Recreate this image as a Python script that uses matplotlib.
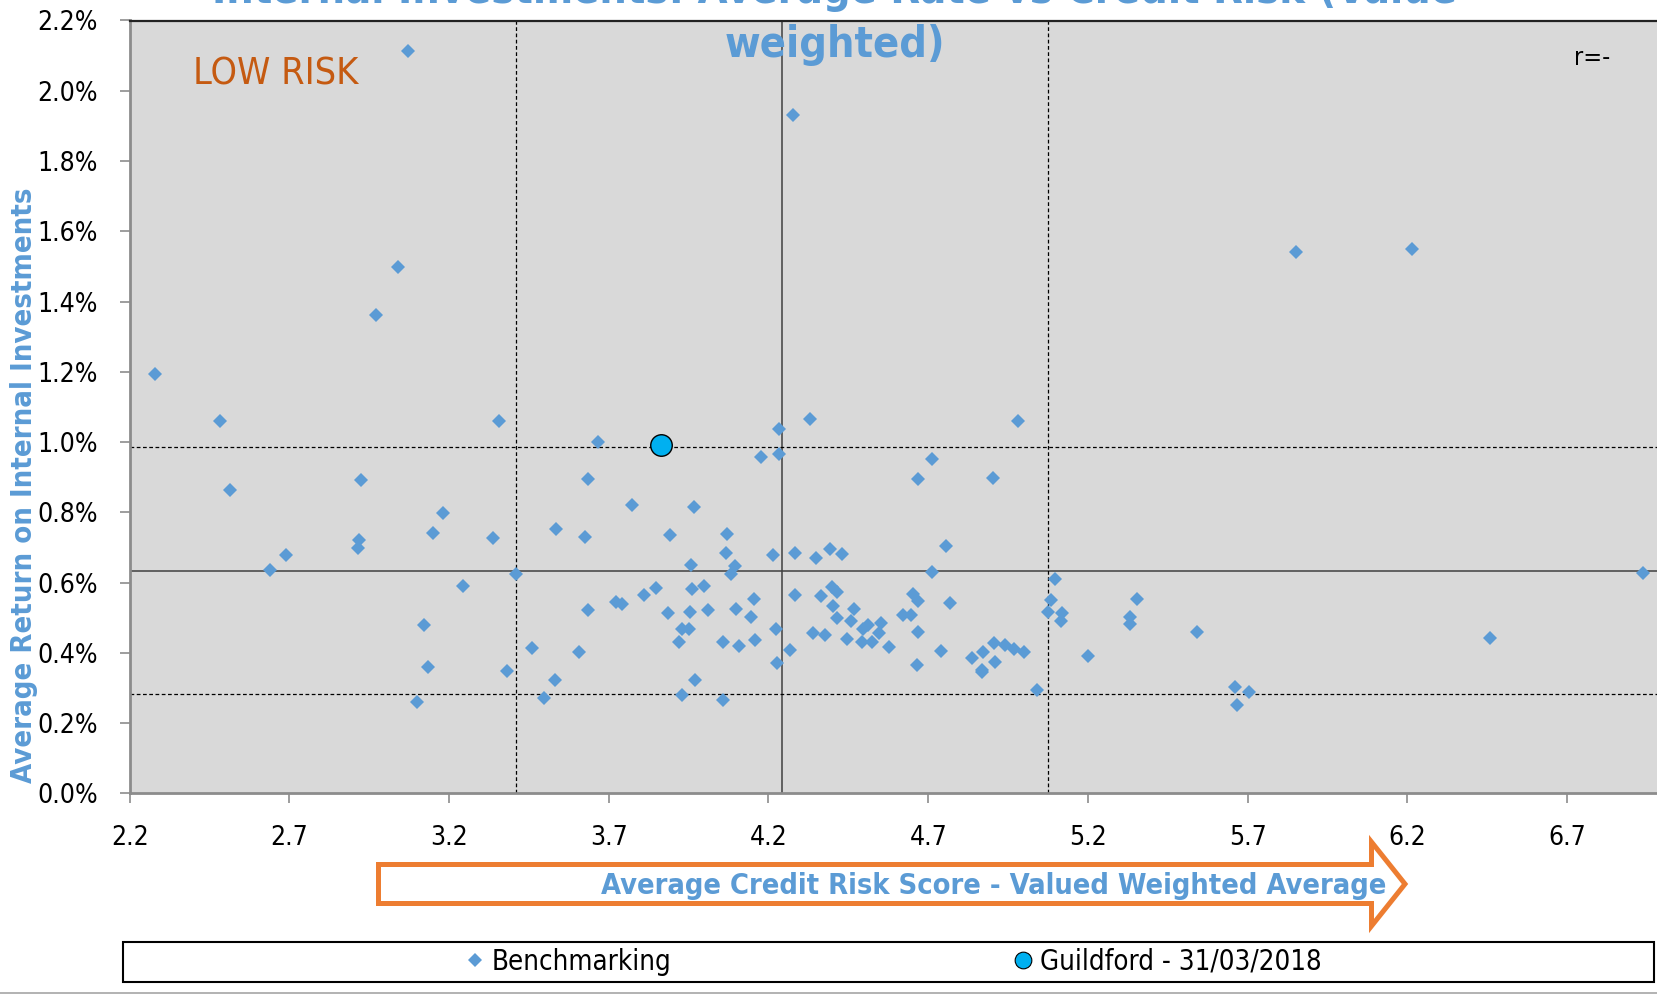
import matplotlib
matplotlib.use('Agg')
import matplotlib.pyplot as plt
from matplotlib import font_manager
from matplotlib.patches import Polygon, Rectangle
from matplotlib.lines import Line2D
import numpy as np

# benchmarking authorities: credit risk score vs average return (%)
bench_x = [3.072, 4.277, 3.039, 2.971, 2.278, 2.483, 3.357, 3.665, 4.331, 4.233,
           4.177, 4.232, 2.513, 2.923, 3.634, 4.981, 4.713, 4.668, 4.902, 5.853,
           6.214, 3.182, 3.151, 3.338, 2.919, 2.916, 2.688, 2.638, 3.245, 3.122,
           3.135, 3.099, 3.772, 3.966, 3.535, 3.626, 3.892, 4.069, 4.066, 3.957,
           4.084, 4.094, 3.409, 3.848, 3.961, 3.998, 3.810, 3.723, 3.741, 3.634,
           3.886, 3.955, 4.011, 3.928, 3.951, 3.920, 4.059, 3.459, 3.607, 3.381,
           3.532, 3.969, 3.930, 4.059, 3.498, 4.215, 4.283, 4.350, 4.393, 4.431,
           4.755, 4.713, 5.096, 4.284, 4.364, 4.400, 4.414, 4.155, 4.099, 4.145,
           4.403, 4.468, 4.415, 4.458, 4.553, 4.512, 4.497, 4.545, 4.653, 4.669,
           4.769, 4.620, 4.645, 4.669, 4.224, 4.108, 4.158, 4.339, 4.378, 4.446,
           4.492, 4.524, 4.576, 4.266, 4.228, 4.666, 4.739, 4.837, 4.871, 4.905,
           4.941, 4.969, 5.000, 4.908, 4.868, 4.870, 5.042, 5.074, 5.085, 5.119,
           5.117, 5.201, 5.354, 5.333, 5.333, 5.542, 6.459, 5.661, 5.704, 5.666,
           6.939]
bench_y = [2.114, 1.930, 1.499, 1.361, 1.195, 1.060, 1.060, 1.000, 1.066, 1.037,
           0.957, 0.966, 0.864, 0.893, 0.895, 1.061, 0.953, 0.896, 0.897, 1.540,
           1.549, 0.797, 0.740, 0.728, 0.721, 0.697, 0.679, 0.635, 0.591, 0.479,
           0.359, 0.259, 0.821, 0.815, 0.752, 0.731, 0.734, 0.738, 0.685, 0.649,
           0.624, 0.647, 0.624, 0.585, 0.583, 0.590, 0.565, 0.546, 0.538, 0.521,
           0.512, 0.517, 0.521, 0.467, 0.467, 0.431, 0.432, 0.413, 0.401, 0.348,
           0.323, 0.323, 0.280, 0.266, 0.271, 0.678, 0.685, 0.671, 0.696, 0.681,
           0.705, 0.629, 0.610, 0.564, 0.562, 0.588, 0.572, 0.554, 0.526, 0.503,
           0.533, 0.525, 0.498, 0.491, 0.486, 0.478, 0.467, 0.456, 0.567, 0.548,
           0.541, 0.509, 0.507, 0.460, 0.468, 0.419, 0.435, 0.456, 0.450, 0.439,
           0.431, 0.431, 0.417, 0.408, 0.370, 0.365, 0.404, 0.386, 0.401, 0.427,
           0.421, 0.412, 0.401, 0.373, 0.351, 0.345, 0.294, 0.517, 0.550, 0.512,
           0.491, 0.391, 0.554, 0.502, 0.482, 0.460, 0.441, 0.302, 0.288, 0.251,
           0.627]

guild_x = [3.864]
guild_y = [0.992]

# average and +/- one std lines
x_mean, x_low, x_high = 4.242, 3.408, 5.075
y_mean, y_low, y_high = 0.634, 0.284, 0.985

x_ticks = [2.2, 2.7, 3.2, 3.7, 4.2, 4.7, 5.2, 5.7, 6.2, 6.7]
y_ticks = [0.0, 0.2, 0.4, 0.6, 0.8, 1.0, 1.2, 1.4, 1.6, 1.8, 2.0, 2.2]

title_1 = 'Internal Investments: Average Rate vs Credit Risk (Value'
title_2 = 'weighted)'
x_label = 'Average Credit Risk Score - Valued Weighted Average'
y_label = 'Average Return on Internal Investments'

BLUE = '#5B9BD5'
ORANGE = '#ED7D31'

names = {f.name for f in font_manager.fontManager.ttflist}
if 'DejaVu Sans Condensed' in names:
    FONT = dict(family='DejaVu Sans Condensed')
else:
    FONT = dict(family='DejaVu Sans', stretch='condensed')

W, H = 1658, 994
fig = plt.figure(figsize=(W / 100, H / 100), dpi=100)

def fx(px):
    return px / W

def fy(py):
    return 1 - py / H

ax = fig.add_axes([fx(129.7), fy(793.3), 1 - fx(129.7), fy(20.5) - fy(793.3)])
ax.set_facecolor('#D9D9D9')
ax.set_xlim(2.2, 2.2 + (W - 129.7) / 319.4)
ax.set_ylim(0, 2.2)

ax.axvline(x_mean, color='#404040', lw=1.1, zorder=1)
ax.axhline(y_mean, color='#404040', lw=1.1, zorder=1)
for v in (x_low, x_high):
    ax.axvline(v, color='black', lw=0.9, dashes=(3, 2), zorder=1)
for v in (y_low, y_high):
    ax.axhline(v, color='black', lw=0.9, dashes=(3, 2), zorder=1)

ax.plot(bench_x, bench_y, ls='none', marker='D', ms=7.4, mew=0,
        color=BLUE, zorder=3)
ax.plot(guild_x, guild_y, ls='none', marker='o', ms=15.5, mfc='#00B0F0',
        mec='black', mew=1, zorder=4)

ax.set_xticks(x_ticks)
ax.set_xticklabels(['%.1f' % v for v in x_ticks])
ax.set_yticks(y_ticks)
ax.set_yticklabels(['%.1f%%' % v for v in y_ticks])
ax.tick_params(direction='out', length=7, width=1.2, color='#8C8C8C',
               labelsize=19, pad=16)
for lab in ax.get_xticklabels() + ax.get_yticklabels():
    lab.set(**FONT)

for s in ('left', 'bottom'):
    ax.spines[s].set_color('#8C8C8C')
    ax.spines[s].set_linewidth(2)
ax.spines['top'].set_color('#222222')
ax.spines['top'].set_linewidth(1.6)
ax.spines['right'].set_visible(False)

ax.text(2.398, 2.017, 'LOW RISK', color='#C55A11', fontsize=27,
        va='baseline', **FONT)
ax.text(6.722, 2.074, 'r=-', color='black', fontsize=18, va='baseline', **FONT)

# title (top line is cut off by the picture edge, as in the source)
fig.text(fx(835), fy(3), title_1, ha='center', va='baseline', color=BLUE,
         fontsize=31, fontweight='bold', **FONT)
fig.text(fx(835), fy(57), title_2, ha='center', va='baseline', color=BLUE,
         fontsize=31, fontweight='bold', **FONT)

fig.text(fx(24), fy(485), y_label, rotation=90, ha='center', va='center',
         color=BLUE, fontsize=21, fontweight='bold', **FONT)

# orange outlined arrow behind x label
arrow_px = [(378.5, 864.5), (1371.5, 864.5), (1371.5, 842), (1405, 884),
            (1371.5, 926), (1371.5, 903.5), (378.5, 903.5)]
fig.add_artist(Polygon([(fx(a), fy(b)) for a, b in arrow_px], closed=True,
                       transform=fig.transFigure, facecolor='white',
                       edgecolor=ORANGE, lw=3.6, joinstyle='miter'))
fig.text(fx(994), fy(886), x_label, ha='center', va='center', color=BLUE,
         fontsize=20.8, fontweight='bold', **FONT)

# legend box
fig.add_artist(Rectangle((fx(123), fy(982)), fx(1654) - fx(123), fy(942) - fy(982),
                         transform=fig.transFigure, facecolor='white',
                         edgecolor='black', lw=1.5))
handles = [Line2D([], [], ls='none', marker='D', ms=7, mew=0, color=BLUE),
           Line2D([], [], ls='none', marker='o', ms=12, mfc='#00B0F0',
                  mec='black', mew=0.8)]
fig.legend(handles, ['Benchmarking', 'Guildford - 31/03/2018'], ncol=2,
           loc='center', bbox_to_anchor=(fx(894), fy(962)), frameon=False,
           prop=dict(size=19.8, **FONT), handlelength=0.6, handletextpad=0.3,
           columnspacing=12.5)

fig.add_artist(Line2D([0, 1], [fy(993), fy(993)], transform=fig.transFigure,
                      color='#A6A6A6', lw=1.2))

fig.savefig('out.png', dpi=100)
